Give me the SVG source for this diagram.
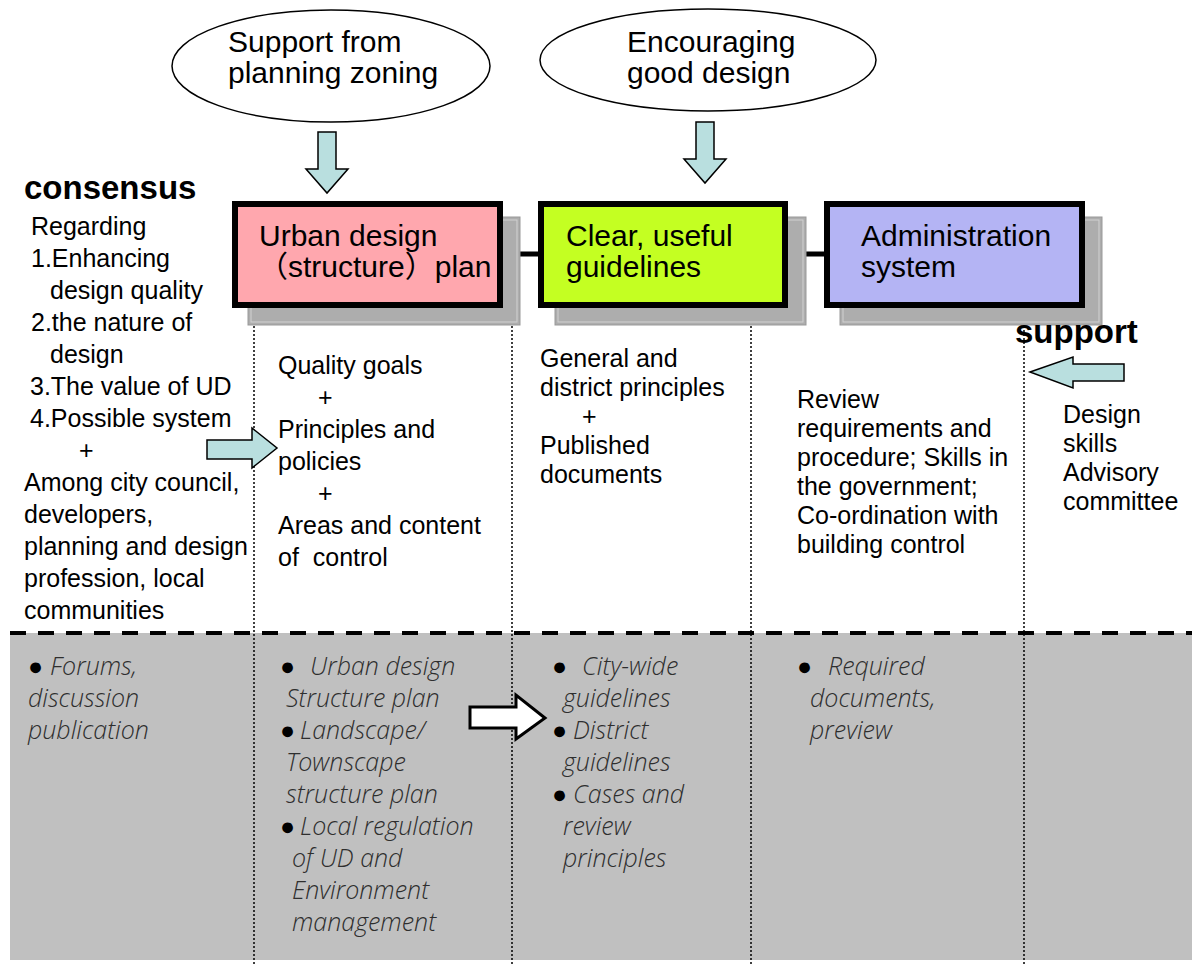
<svg xmlns="http://www.w3.org/2000/svg" width="1192" height="964" viewBox="0 0 1192 964">
<defs>
<style>
.t{font-family:"Liberation Sans",Arial,sans-serif;font-size:25px;fill:#000}
.big{font-family:"Liberation Sans","Noto Sans CJK SC",Arial,sans-serif;font-size:30px;fill:#000}
.bold{font-family:"Liberation Sans",Arial,sans-serif;font-size:33px;font-weight:bold;fill:#000}
.lt{font-family:"Open Sans","Lato",sans-serif;font-size:25px;font-weight:300;font-style:italic;fill:#2E2E2E}
.bu{fill:#000;font-style:normal;font-family:"Liberation Sans","DejaVu Sans",sans-serif;font-size:25px}
.box{stroke:#000;stroke-width:6}
.shadow{fill:#ADADAD;stroke:#999;stroke-width:1}
.shin{fill:none;stroke:#D2D2D2;stroke-width:1}
.ell{fill:#fff;stroke:#000;stroke-width:1.5}
.barrow{fill:#B9DFDF;stroke:#000;stroke-width:1.5;stroke-linejoin:miter}
.dot{stroke:#000;stroke-width:1.5;stroke-dasharray:2 2;fill:none}
</style>
</defs>
<rect width="1192" height="964" fill="#fff"/>
<rect x="10" y="633" width="1182" height="327" fill="#C0C0C0"/>

<g id="connectors">
<line class="dot" x1="254" y1="318" x2="254" y2="964"/>
<line class="dot" x1="512" y1="318" x2="512" y2="964"/>
<line class="dot" x1="751" y1="318" x2="751" y2="964"/>
<line class="dot" x1="1024" y1="318" x2="1024" y2="964"/>
<line x1="10" y1="633" x2="1192" y2="633" stroke="#000" stroke-width="4" stroke-dasharray="16 12"/>
<line x1="500" y1="254" x2="541" y2="254" stroke="#000" stroke-width="5"/>
<line x1="785" y1="254" x2="827" y2="254" stroke="#000" stroke-width="5"/>
<polygon class="barrow" points="318,132 336,132 336,169 348,169 327,193 306,169 318,169"/>
<polygon class="barrow" points="696,122 714,122 714,159 726,159 705,183 684,159 696,159"/>
<polygon class="barrow" points="207,440 252,440 252,428 277,448 252,468 252,459 207,459"/>
<polygon class="barrow" points="1030,372 1073,357 1073,364 1124,364 1124,381 1073,381 1073,388"/>
<polygon points="470,707 516,707 516,695 545,718 516,739 516,728 470,728" fill="#fff" stroke="#000" stroke-width="3"/>
</g>

<g id="ellipse-zoning">
<ellipse class="ell" cx="331" cy="66" rx="159" ry="56"/>
<text class="big" x="228" y="52">Support from</text>
<text class="big" x="228" y="83">planning zoning</text>
</g>

<g id="ellipse-design">
<ellipse class="ell" cx="708" cy="60" rx="168" ry="51"/>
<text class="big" x="627" y="52">Encouraging</text>
<text class="big" x="627" y="83">good design</text>
</g>

<g id="box-urban">
<rect class="shadow" x="248" y="217" width="272" height="108"/>
<rect class="shin" x="251" y="220" width="266" height="102"/>
<rect class="box" x="235" y="204" width="265" height="101" fill="#FFA7AE"/>
<text class="big" x="259" y="246">Urban design</text>
<text class="big" x="258" y="277">（structure）plan</text>
</g>

<g id="box-guidelines">
<rect class="shadow" x="555" y="217" width="251" height="108"/>
<rect class="shin" x="558" y="220" width="245" height="102"/>
<rect class="box" x="541" y="204" width="244" height="101" fill="#C4FF22"/>
<text class="big" x="566" y="246">Clear, useful</text>
<text class="big" x="566" y="277">guidelines</text>
</g>

<g id="box-admin">
<rect class="shadow" x="840" y="217" width="262" height="108"/>
<rect class="shin" x="843" y="220" width="256" height="102"/>
<rect class="box" x="827" y="204" width="255" height="101" fill="#B4B4F4"/>
<text class="big" x="861" y="246">Administration</text>
<text class="big" x="861" y="277">system</text>
</g>

<g id="consensus">
<text class="bold" x="24" y="199">consensus</text>
<text class="t" x="31" y="235">Regarding</text>
<text class="t" x="31" y="267">1.Enhancing</text>
<text class="t" x="50" y="299">design quality</text>
<text class="t" x="31" y="331">2.the nature of</text>
<text class="t" x="50" y="363">design</text>
<text class="t" x="30" y="395">3.The value of UD</text>
<text class="t" x="30" y="427">4.Possible system</text>
<text class="t" x="79" y="459">+</text>
<text class="t" x="24" y="491">Among city council,</text>
<text class="t" x="24" y="523">developers,</text>
<text class="t" x="24" y="555">planning and design</text>
<text class="t" x="24" y="587">profession, local</text>
<text class="t" x="24" y="619">communities</text>
</g>

<g id="col-urban">
<text class="t" x="278" y="374">Quality goals</text>
<text class="t" x="318" y="406">+</text>
<text class="t" x="278" y="438">Principles and</text>
<text class="t" x="278" y="470">policies</text>
<text class="t" x="318" y="502">+</text>
<text class="t" x="278" y="534">Areas and content</text>
<text class="t" x="278" y="566" xml:space="preserve">of  control</text>
</g>

<g id="col-guidelines">
<text class="t" x="540" y="367">General and</text>
<text class="t" x="540" y="396">district principles</text>
<text class="t" x="582" y="425">+</text>
<text class="t" x="540" y="454">Published</text>
<text class="t" x="540" y="483">documents</text>
</g>

<g id="col-admin">
<text class="t" x="797" y="408">Review</text>
<text class="t" x="797" y="437">requirements and</text>
<text class="t" x="797" y="466">procedure; Skills in</text>
<text class="t" x="797" y="495">the government;</text>
<text class="t" x="797" y="524">Co-ordination with</text>
<text class="t" x="797" y="553">building control</text>
</g>

<g id="support">
<text class="bold" x="1015" y="343">support</text>
<text class="t" x="1063" y="423">Design</text>
<text class="t" x="1063" y="452">skills</text>
<text class="t" x="1063" y="481">Advisory</text>
<text class="t" x="1063" y="510">committee</text>
</g>

<g id="bottom-consensus">
<text class="lt" y="675"><tspan class="bu" x="28">●</tspan><tspan x="50">Forums,</tspan></text>
<text class="lt" x="28" y="707">discussion</text>
<text class="lt" x="28" y="739">publication</text>
</g>

<g id="bottom-urban">
<text class="lt" y="675"><tspan class="bu" x="280">●</tspan><tspan x="310">Urban design</tspan></text>
<text class="lt" x="286" y="707">Structure plan</text>
<text class="lt" y="739"><tspan class="bu" x="280">●</tspan><tspan x="300">Landscape/</tspan></text>
<text class="lt" x="286" y="771">Townscape</text>
<text class="lt" x="286" y="803">structure plan</text>
<text class="lt" y="835"><tspan class="bu" x="280">●</tspan><tspan x="300">Local regulation</tspan></text>
<text class="lt" x="292" y="867">of UD and</text>
<text class="lt" x="292" y="899">Environment</text>
<text class="lt" x="292" y="931">management</text>
</g>

<g id="bottom-guidelines">
<text class="lt" y="675"><tspan class="bu" x="552">●</tspan><tspan x="582">City-wide</tspan></text>
<text class="lt" x="563" y="707">guidelines</text>
<text class="lt" y="739"><tspan class="bu" x="552">●</tspan><tspan x="573">District</tspan></text>
<text class="lt" x="563" y="771">guidelines</text>
<text class="lt" y="803"><tspan class="bu" x="552">●</tspan><tspan x="573">Cases and</tspan></text>
<text class="lt" x="563" y="835">review</text>
<text class="lt" x="563" y="867">principles</text>
</g>

<g id="bottom-admin">
<text class="lt" y="675"><tspan class="bu" x="797">●</tspan><tspan x="828">Required</tspan></text>
<text class="lt" x="810" y="707">documents,</text>
<text class="lt" x="810" y="739">preview</text>
</g>
</svg>
